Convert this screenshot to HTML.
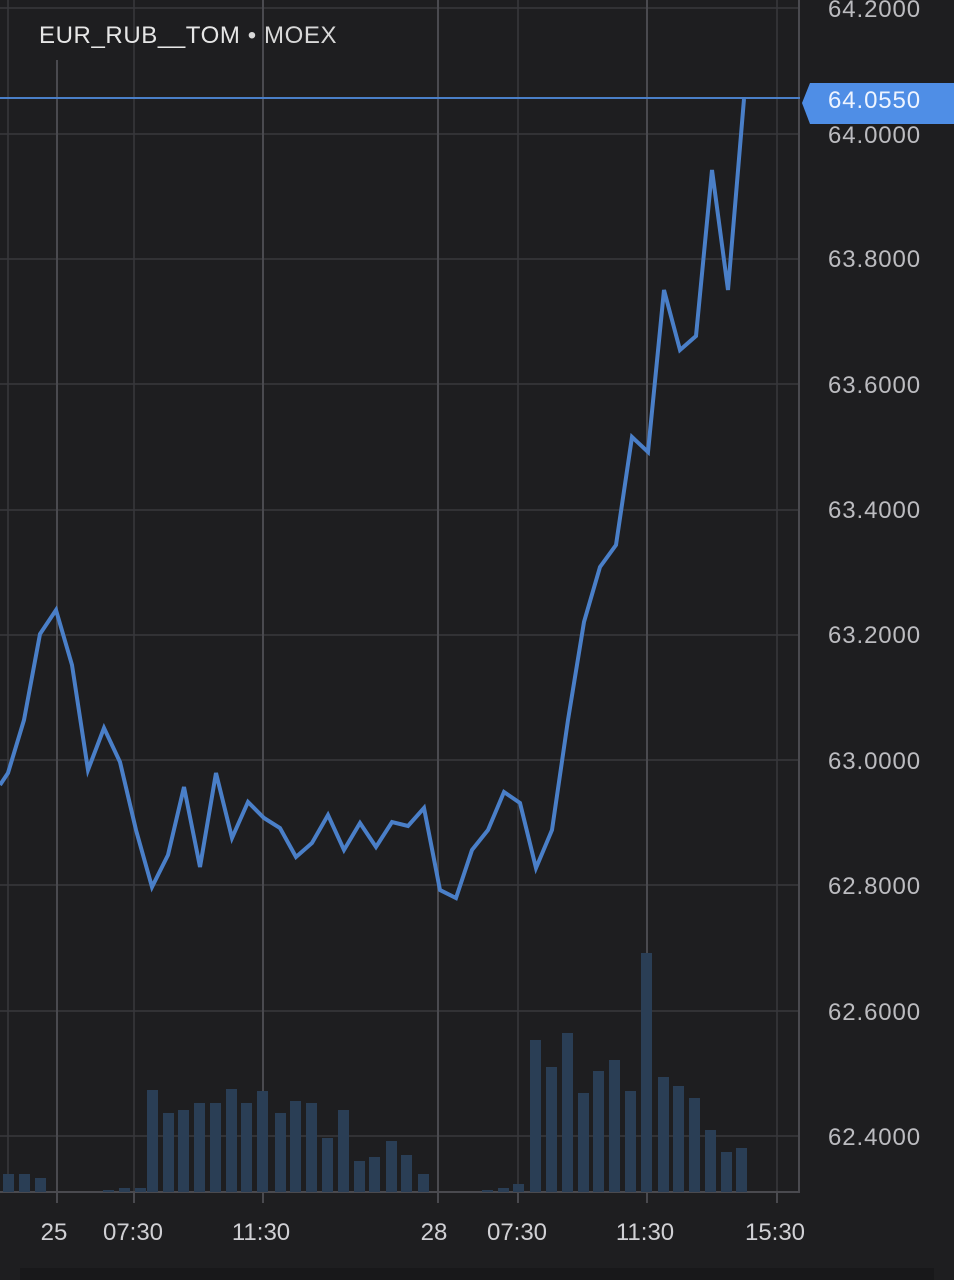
<!DOCTYPE html><html><head><style>body{margin:0;background:#1e1e20;}svg{display:block}</style></head><body>
<svg width="954" height="1280" viewBox="0 0 954 1280" font-family="Liberation Sans, sans-serif">
<rect width="954" height="1280" fill="#1e1e20"/>
<g stroke="#38383c" stroke-width="1.5">
<line x1="0" y1="8" x2="800" y2="8"/><line x1="0" y1="134" x2="800" y2="134"/><line x1="0" y1="259" x2="800" y2="259"/><line x1="0" y1="384" x2="800" y2="384"/><line x1="0" y1="510" x2="800" y2="510"/><line x1="0" y1="635" x2="800" y2="635"/><line x1="0" y1="760" x2="800" y2="760"/><line x1="0" y1="885" x2="800" y2="885"/><line x1="0" y1="1011" x2="800" y2="1011"/><line x1="0" y1="1136" x2="800" y2="1136"/>
<line x1="8" y1="0" x2="8" y2="1192"/><line x1="134" y1="0" x2="134" y2="1192"/><line x1="518" y1="0" x2="518" y2="1192"/><line x1="777" y1="0" x2="777" y2="1192"/>
</g>
<g stroke="#4a4a4f" stroke-width="2">
<line x1="57" y1="60" x2="57" y2="1203"/><line x1="263" y1="0" x2="263" y2="1203"/><line x1="438" y1="0" x2="438" y2="1203"/><line x1="647" y1="0" x2="647" y2="1203"/>
<line x1="134" y1="1192" x2="134" y2="1203"/><line x1="518" y1="1192" x2="518" y2="1203"/><line x1="777" y1="1192" x2="777" y2="1203"/>
<line x1="0" y1="1192" x2="800" y2="1192"/><line x1="799" y1="0" x2="799" y2="1192"/>
</g>
<g fill="#2a3e55">
<rect x="3" y="1174" width="11" height="18"/><rect x="19" y="1174" width="11" height="18"/><rect x="35" y="1178" width="11" height="14"/><rect x="103" y="1190" width="11" height="2"/><rect x="119" y="1188" width="11" height="4"/><rect x="135" y="1188" width="11" height="4"/><rect x="147" y="1090" width="11" height="102"/><rect x="163" y="1113" width="11" height="79"/><rect x="178" y="1110" width="11" height="82"/><rect x="194" y="1103" width="11" height="89"/><rect x="210" y="1103" width="11" height="89"/><rect x="226" y="1089" width="11" height="103"/><rect x="241" y="1103" width="11" height="89"/><rect x="257" y="1091" width="11" height="101"/><rect x="275" y="1113" width="11" height="79"/><rect x="290" y="1101" width="11" height="91"/><rect x="306" y="1103" width="11" height="89"/><rect x="322" y="1138" width="11" height="54"/><rect x="338" y="1110" width="11" height="82"/><rect x="354" y="1161" width="11" height="31"/><rect x="369" y="1157" width="11" height="35"/><rect x="386" y="1141" width="11" height="51"/><rect x="401" y="1155" width="11" height="37"/><rect x="418" y="1174" width="11" height="18"/>
<rect x="482" y="1190" width="11" height="2"/><rect x="498" y="1188" width="11" height="4"/><rect x="513" y="1184" width="11" height="8"/><rect x="530" y="1040" width="11" height="152"/><rect x="546" y="1067" width="11" height="125"/><rect x="562" y="1033" width="11" height="159"/><rect x="578" y="1093" width="11" height="99"/><rect x="593" y="1071" width="11" height="121"/><rect x="609" y="1060" width="11" height="132"/><rect x="625" y="1091" width="11" height="101"/><rect x="641" y="953" width="11" height="239"/><rect x="658" y="1077" width="11" height="115"/><rect x="673" y="1086" width="11" height="106"/><rect x="689" y="1098" width="11" height="94"/><rect x="705" y="1130" width="11" height="62"/><rect x="721" y="1152" width="11" height="40"/><rect x="736" y="1148" width="11" height="44"/>
</g>
<line x1="0" y1="98" x2="800" y2="98" stroke="#4a7fc8" stroke-width="2"/>
<polyline fill="none" stroke="#4a7fc8" stroke-width="4" stroke-linejoin="miter" points="0,785 8,773 24,720 40,634 56,610 72,665 88,770 104,728 120,762 136,830 152,887 168,855 184,787 200,867 216,773 232,838 248,802 264,818 280,828 296,857 312,843 328,815 344,850 360,823 376,847 392,822 408,826 424,808 440,890 456,898 472,850 488,830 504,792 520,803 536,868 552,830 568,720 584,622 600,567 616,545 632,437 648,452 664,290 680,350 696,336 712,170 728,290 744,99"/>
<text x="39" y="43" fill="#e6e6e6" font-size="24" letter-spacing="0.6">EUR_RUB__TOM <tspan fill="#d8d8d8">• MOEX</tspan></text>
<g fill="#bcbcc0" font-size="24" letter-spacing="0.9">
<text x="828" y="17">64.2000</text><text x="828" y="143">64.0000</text><text x="828" y="267">63.8000</text><text x="828" y="393">63.6000</text><text x="828" y="518">63.4000</text><text x="828" y="643">63.2000</text><text x="828" y="769">63.0000</text><text x="828" y="894">62.8000</text><text x="828" y="1020">62.6000</text><text x="828" y="1145">62.4000</text>
</g>
<path d="M810,83 H954 V124 H810 L802,103 Z" fill="#4f8ee6"/>
<text x="828" y="108" fill="#eef4ff" font-size="24" letter-spacing="0.9">64.0550</text>
<g fill="#d0d0d4" font-size="24" text-anchor="middle">
<text x="54" y="1240">25</text><text x="133" y="1240">07:30</text><text x="261" y="1240">11:30</text><text x="434" y="1240">28</text><text x="517" y="1240">07:30</text><text x="645" y="1240">11:30</text><text x="775" y="1240">15:30</text>
</g>
<rect x="20" y="1268" width="914" height="12" fill="#18181a"/>
</svg></body></html>
